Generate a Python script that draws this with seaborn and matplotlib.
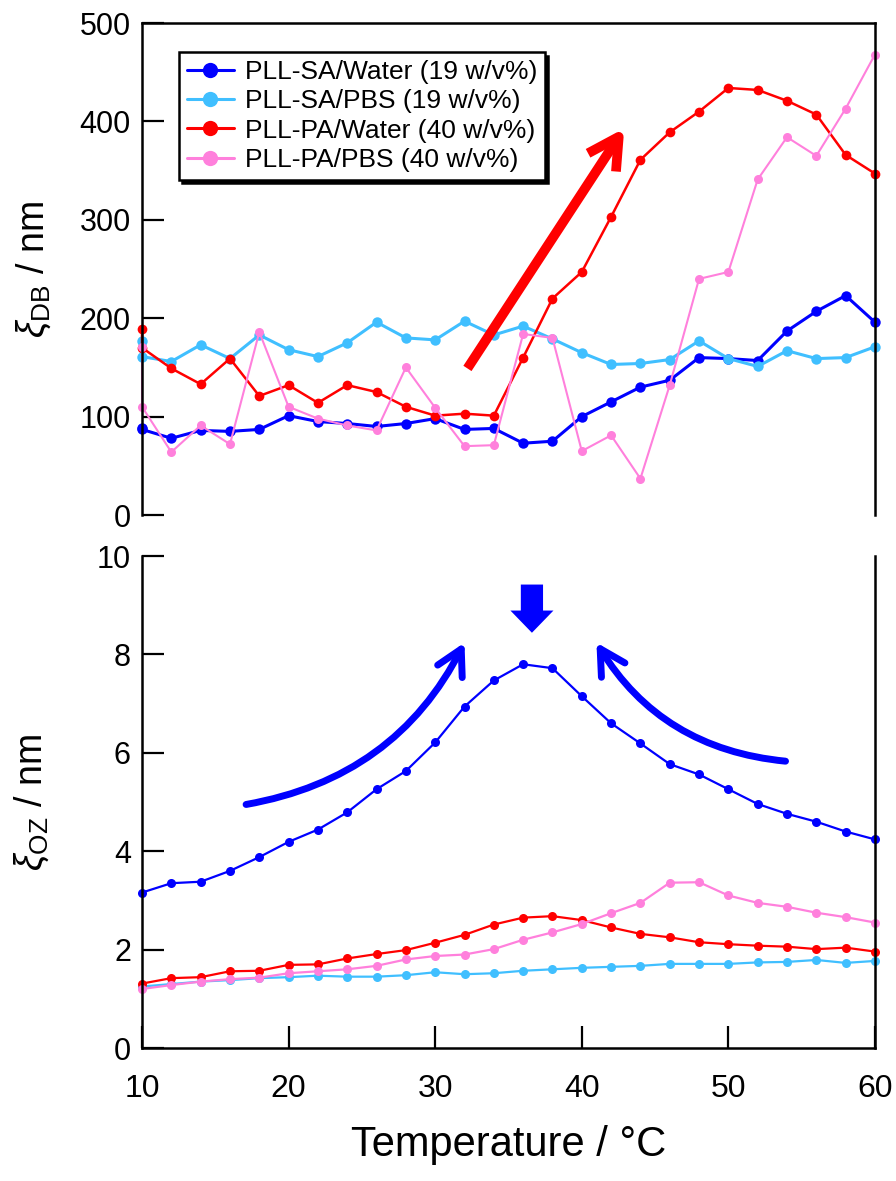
import matplotlib
matplotlib.use("Agg")
import matplotlib.pyplot as plt
from matplotlib.patches import FancyArrowPatch
import seaborn as sns

# temperatures (the DB run starts with two readings at 10 C)
temp_db = [10, 10, 12, 14, 16, 18, 20, 22, 24, 26, 28, 30, 32, 34,
           36, 38, 40, 42, 44, 46, 48, 50, 52, 54, 56, 58, 60]
temp_oz = [10, 12, 14, 16, 18, 20, 22, 24, 26, 28, 30, 32, 34,
           36, 38, 40, 42, 44, 46, 48, 50, 52, 54, 56, 58, 60]

# xi_DB (nm)
sa_water_db = [88, 87, 78, 86, 85, 87, 101, 95, 93, 90, 93, 98, 87, 88,
               73, 75, 100, 115, 130, 137, 160, 159, 157, 187, 207, 223, 196]
sa_pbs_db = [177, 161, 156, 173, 159, 183, 168, 161, 175, 196, 180, 178, 197, 183,
             192, 179, 165, 153, 154, 158, 177, 159, 151, 167, 159, 160, 171]
pa_water_db = [189, 170, 149, 133, 159, 121, 132, 114, 132, 125, 110, 101, 103, 101,
               160, 220, 247, 303, 361, 389, 410, 434, 432, 421, 407, 366, 347]
pa_pbs_db = [171, 110, 64, 91, 72, 186, 110, 98, 91, 86, 150, 109, 70, 71,
             184, 180, 65, 81, 37, 132, 240, 247, 341, 384, 365, 413, 468]

# xi_OZ (nm)
sa_water_oz = [3.16, 3.35, 3.38, 3.60, 3.88, 4.19, 4.44, 4.79, 5.26, 5.63, 6.21, 6.94, 7.47,
               7.80, 7.72, 7.15, 6.60, 6.19, 5.77, 5.56, 5.26, 4.96, 4.76, 4.60, 4.40, 4.24]
sa_pbs_oz = [1.25, 1.30, 1.35, 1.38, 1.42, 1.44, 1.47, 1.45, 1.45, 1.48, 1.54, 1.50, 1.52,
             1.57, 1.60, 1.63, 1.65, 1.67, 1.71, 1.71, 1.71, 1.74, 1.75, 1.79, 1.73, 1.77]
pa_water_oz = [1.31, 1.42, 1.44, 1.56, 1.57, 1.69, 1.70, 1.82, 1.91, 1.99, 2.14, 2.30, 2.51,
               2.65, 2.68, 2.60, 2.45, 2.32, 2.25, 2.15, 2.11, 2.08, 2.06, 2.01, 2.04, 1.96]
pa_pbs_oz = [1.20, 1.28, 1.35, 1.40, 1.43, 1.52, 1.56, 1.60, 1.67, 1.80, 1.87, 1.90, 2.01,
             2.20, 2.35, 2.52, 2.74, 2.95, 3.36, 3.37, 3.10, 2.95, 2.87, 2.75, 2.66, 2.55]

labels = ["PLL-SA/Water (19 w/v%)", "PLL-SA/PBS (19 w/v%)",
          "PLL-PA/Water (40 w/v%)", "PLL-PA/PBS (40 w/v%)"]
colors = ["#0000ff", "#40bfff", "#ff0000", "#ff80dc"]

sns.set_style("ticks")
plt.rcParams["font.family"] = ["Liberation Sans", "DejaVu Sans"]
plt.rcParams["mathtext.fontset"] = "custom"
plt.rcParams["mathtext.rm"] = "Liberation Sans"
plt.rcParams["mathtext.it"] = "Liberation Sans:italic"
plt.rcParams["text.color"] = "black"
plt.rcParams["axes.labelcolor"] = "black"
plt.rcParams["xtick.color"] = "black"
plt.rcParams["ytick.color"] = "black"

fig = plt.figure(figsize=(8.96, 11.81), dpi=100)
ax1 = fig.add_axes([0.1585, 0.5639, 0.818, 0.4166])
ax2 = fig.add_axes([0.1585, 0.1126, 0.818, 0.4166])


def draw(ax, x, y, color, lw, ms, label=None):
    sns.lineplot(x=x, y=y, ax=ax, color=color, lw=lw, marker="o", ms=ms,
                 markeredgewidth=0, estimator=None, sort=False,
                 label=label, legend=False, clip_on=False)


# top panel
top = [sa_water_db, sa_pbs_db, pa_water_db, pa_pbs_db]
top_lw = [2.2, 2.2, 1.8, 1.5]
top_ms = [7.5, 7.5, 7, 6.5]
for vals, c, lw, ms, lab in zip(top, colors, top_lw, top_ms, labels):
    draw(ax1, temp_db, vals, c, lw, ms, lab)

# bottom panel
bot = [sa_water_oz, sa_pbs_oz, pa_water_oz, pa_pbs_oz]
for vals, c in zip(bot, colors):
    draw(ax2, temp_oz, vals, c, 1.6, 6.5)

for ax in (ax1, ax2):
    ax.set_xlim(10, 60)
    for s in ax.spines.values():
        s.set_linewidth(1.8)
        s.set_color("black")
    ax.tick_params(axis="y", direction="in", length=16, width=1.6,
                   labelsize=22, pad=8, right=False)

ax1.set_ylim(0, 500)
ax1.set_yticks([0, 100, 200, 300, 400, 500])
ax1.spines["bottom"].set_visible(False)
ax1.tick_params(axis="x", bottom=False, labelbottom=False)
ax1.set_ylabel(r"$\xi_{\mathrm{DB}}$ / nm", fontsize=27, labelpad=19)

ax2.set_ylim(0, 10)
ax2.set_yticks([0, 2, 4, 6, 8, 10])
ax2.spines["top"].set_visible(False)
ax2.set_xticks([10, 20, 30, 40, 50, 60])
ax2.tick_params(axis="x", direction="in", length=16, width=1.6, pad=19,
                labelsize=23, top=False)
ax2.set_ylabel(r"$\xi_{\mathrm{OZ}}$ / nm", fontsize=27, labelpad=33)
ax2.set_xlabel("Temperature / °C", fontsize=30, labelpad=15)

leg = ax1.legend(loc="upper left", bbox_to_anchor=(0.05, 0.941), borderaxespad=0,
                 fontsize=19, labelspacing=0.2, handlelength=1.8, handletextpad=0.4,
                 borderpad=0.3, frameon=True, fancybox=False, edgecolor="black",
                 shadow={"color": "black", "alpha": 1, "ox": 2.5, "oy": -2.5})
leg.get_frame().set_linewidth(1.8)
for h in leg.legend_handles:
    h.set_markersize(11)
    h.set_linewidth(2.2)

# red straight arrow in top panel
ax1.annotate("", xy=(42.9, 393), xytext=(32.2, 149),
             arrowprops=dict(arrowstyle="->,head_length=1.1,head_width=0.6",
                             color="#ff0000", lw=7, mutation_scale=20,
                             shrinkA=0, shrinkB=0, capstyle="butt"))

# curved blue arrows in bottom panel
ax2.add_patch(FancyArrowPatch((17.1, 4.95), (32.0, 8.24),
                              connectionstyle="arc3,rad=0.25",
                              arrowstyle="->,head_length=1.0,head_width=0.55",
                              mutation_scale=18, color="#0000ff", lw=5,
                              shrinkA=0, shrinkB=0))
ax2.add_patch(FancyArrowPatch((53.9, 5.83), (41.0, 8.24),
                              connectionstyle="arc3,rad=-0.25",
                              arrowstyle="->,head_length=1.0,head_width=0.55",
                              mutation_scale=18, color="#0000ff", lw=5,
                              shrinkA=0, shrinkB=0))
# block arrow marking the peak
ax2.annotate("", xy=(36.6, 8.44), xytext=(36.6, 9.42),
             arrowprops=dict(arrowstyle="simple,head_length=0.8,head_width=1.55,tail_width=0.8",
                             color="#0000ff", lw=0, mutation_scale=20,
                             shrinkA=0, shrinkB=0))

fig.savefig("out.png", dpi=100)
